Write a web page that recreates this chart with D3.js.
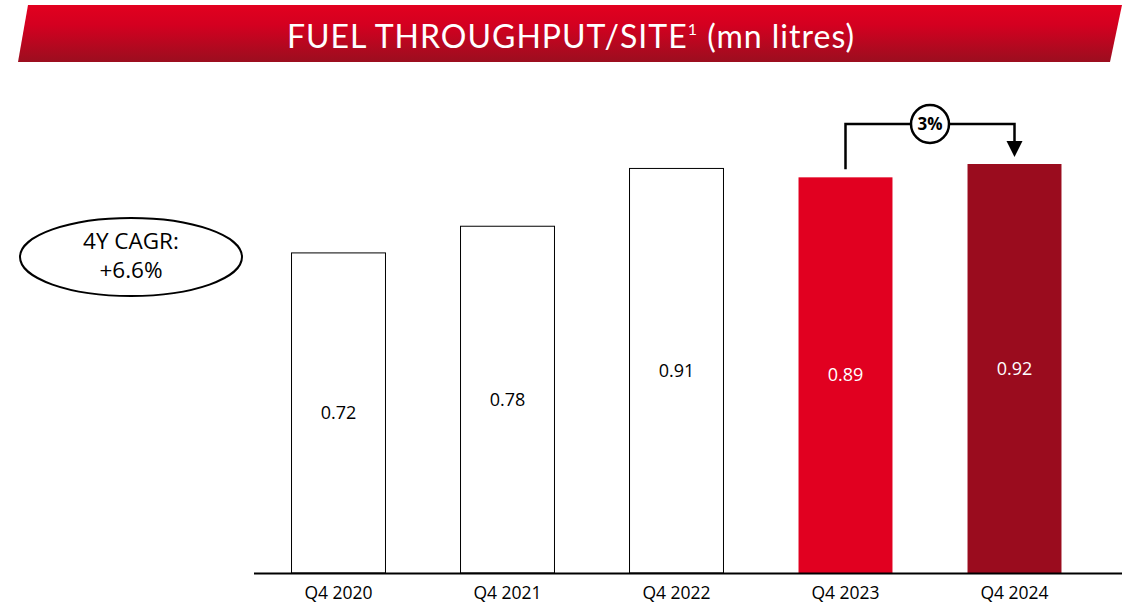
<!DOCTYPE html>
<html><head><meta charset="utf-8">
<script src="https://cdn.jsdelivr.net/npm/d3@7"></script>
<style>body{margin:0;background:#fff}svg{display:block}</style>
</head><body>
<svg id="c" width="1122" height="607"></svg>
<script>
const categories = ["Q4 2020","Q4 2021","Q4 2022","Q4 2023","Q4 2024"];
const values = [0.72, 0.78, 0.91, 0.89, 0.92];
const barFills = ["#ffffff","#ffffff","#ffffff","#e10020","#9a0c1e"];
const labelColors = ["#000","#000","#000","#fff","#fff"];
const titleText = "FUEL THROUGHPUT/SITE";
const cagrLines = ["4Y CAGR:", "+6.6%"];
const growthLabel = "3%";

const svg = d3.select("#c");
const defs = svg.append("defs");
const g = defs.append("linearGradient").attr("id","tg").attr("x1",0).attr("y1",0).attr("x2",0).attr("y2",1);
g.append("stop").attr("offset","0%").attr("stop-color","#e2001f");
g.append("stop").attr("offset","35%").attr("stop-color","#d40020");
g.append("stop").attr("offset","100%").attr("stop-color","#9b0e1f");

// Title banner
svg.append("path").attr("d","M28,5L1122,5L1110,62L18,62Z").attr("fill","url(#tg)");
const tt = svg.append("text").attr("x",571).attr("y",48).attr("text-anchor","middle")
  .attr("fill","#fff").attr("font-family","Lato, 'Noto Sans', sans-serif").attr("font-size",32)
  .attr("letter-spacing",1);
tt.append("tspan").text(titleText);
tt.append("tspan").attr("font-size",16).attr("dy",-13).text("1");
tt.append("tspan").attr("dy",13).text(" (mn litres)");

const x = d3.scaleBand().domain(categories).range([254,1099]).paddingInner(0.444).paddingOuter(0.222);
const y = d3.scaleLinear().domain([0,0.92]).range([573,164]);

svg.selectAll("rect.bar").data(values).join("rect").attr("class","bar")
  .attr("x",(d,i)=>x(categories[i])).attr("y",d=>y(d))
  .attr("width",x.bandwidth()).attr("height",d=>y(0)-y(d))
  .attr("fill",(d,i)=>barFills[i])
  .attr("stroke",(d,i)=>barFills[i]==="#ffffff"?"#000":"none").attr("stroke-width",1);

svg.selectAll("text.val").data(values).join("text").attr("class","val")
  .attr("x",(d,i)=>x(categories[i])+x.bandwidth()/2).attr("y",d=>(y(d)+y(0))/2)
  .attr("dy","0.35em").attr("text-anchor","middle").attr("font-family","'Open Sans', sans-serif")
  .attr("font-size",18).attr("fill",(d,i)=>labelColors[i]).text(d=>d.toFixed(2));

// axis
const ax = svg.append("g").attr("transform","translate(0,573)").call(d3.axisBottom(x).tickSize(0).tickPadding(14));
ax.select(".domain").remove();
ax.selectAll("text").attr("font-family","'Open Sans', sans-serif").attr("font-size",17.5).attr("fill","#000");
svg.append("line").attr("x1",254).attr("x2",1126).attr("y1",573.5).attr("y2",573.5).attr("stroke","#000").attr("stroke-width",2);

// CAGR ellipse
svg.append("ellipse").attr("cx",131).attr("cy",257).attr("rx",111).attr("ry",39)
  .attr("fill","#fff").attr("stroke","#000").attr("stroke-width",2);
svg.selectAll("text.cagr").data(cagrLines).join("text").attr("class","cagr")
  .attr("x",131).attr("y",(d,i)=>249+i*29).attr("text-anchor","middle")
  .attr("font-family","'Open Sans', sans-serif").attr("font-size",22.5).attr("fill","#000").text(d=>d);

// growth arrow
const cx1 = x(categories[3])+x.bandwidth()/2, cx2 = x(categories[4])+x.bandwidth()/2;
const topY = 124;
const tipY = y(values[4]) - 7;
svg.append("path").attr("d",`M${cx1},${y(values[3])-8}V${topY}H${cx2}V${tipY-14}`)
  .attr("fill","none").attr("stroke","#000").attr("stroke-width",2.5);
svg.append("path").attr("d",`M${cx2-8},${tipY-16}L${cx2+8},${tipY-16}L${cx2},${tipY}Z`).attr("fill","#000");
const mx = (cx1+cx2)/2;
svg.append("circle").attr("cx",mx).attr("cy",topY).attr("r",19).attr("fill","#fff").attr("stroke","#000").attr("stroke-width",2.5);
svg.append("text").attr("x",mx).attr("y",topY).attr("dy","0.35em").attr("text-anchor","middle")
  .attr("font-family","'Open Sans', sans-serif").attr("font-weight","bold").attr("font-size",17).text(growthLabel);
</script>
</body></html>
